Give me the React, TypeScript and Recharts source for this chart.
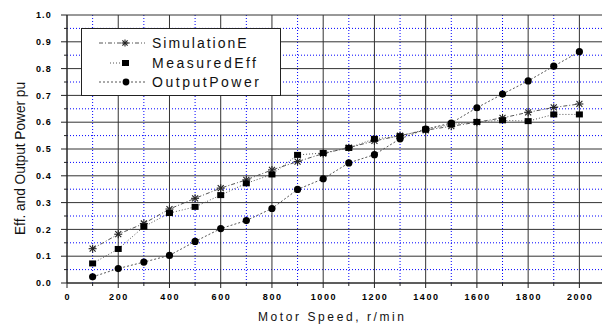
import React from 'react';
import { LineChart, Line, XAxis, YAxis, CartesianGrid, Legend } from 'recharts';

const speeds = [100, 200, 300, 400, 500, 600, 700, 800, 900, 1000, 1100, 1200, 1300, 1400, 1500, 1600, 1700, 1800, 1900, 2000];
const simulationEff = [0.128, 0.182, 0.222, 0.276, 0.316, 0.354, 0.385, 0.422, 0.453, 0.483, 0.505, 0.53, 0.55, 0.57, 0.585, 0.6, 0.616, 0.637, 0.655, 0.668];
const measuredEff = [0.073, 0.127, 0.21, 0.261, 0.284, 0.328, 0.372, 0.405, 0.478, 0.485, 0.504, 0.538, 0.548, 0.573, 0.592, 0.601, 0.607, 0.604, 0.629, 0.629];
const outputPower = [0.023, 0.054, 0.078, 0.103, 0.155, 0.203, 0.233, 0.278, 0.349, 0.389, 0.448, 0.479, 0.538, 0.574, 0.597, 0.654, 0.705, 0.754, 0.809, 0.863];

const seriesNames = ['SimulationE', 'MeasuredEff', 'OutputPower'];

const xTicks = [0, 100, 200, 300, 400, 500, 600, 700, 800, 900, 1000, 1100, 1200, 1300, 1400, 1500, 1600, 1700, 1800, 1900, 2000];
const xMajor = [0, 200, 400, 600, 800, 1000, 1200, 1400, 1600, 1800, 2000];
const xMinor = [100, 300, 500, 700, 900, 1100, 1300, 1500, 1700, 1900, 2100];
const yTicks = [0, 0.05, 0.1, 0.15, 0.2, 0.25, 0.3, 0.35, 0.4, 0.45, 0.5, 0.55, 0.6, 0.65, 0.7, 0.75, 0.8, 0.85, 0.9, 0.95, 1.0];
const yMajor = [0, 0.1, 0.2, 0.3, 0.4, 0.5, 0.6, 0.7, 0.8, 0.9, 1.0];
const yMinor = [0.05, 0.15, 0.25, 0.35, 0.45, 0.55, 0.65, 0.75, 0.85, 0.95];

const data = speeds.map((s, i) => ({
  speed: s,
  sim: simulationEff[i],
  meas: measuredEff[i],
  out: outputPower[i],
}));

const FONT = '"Liberation Sans", Arial, sans-serif';
const INK = '#111';
const LINE = '#555';
const DASH_SIM = '4 2 1 2';
const DASH_MEAS = '1 2';
const DASH_OUT = '2 2';

const isIn = (arr: number[], v: number) => arr.some((a) => Math.abs(a - v) < 1e-6);

const XTick = (props: any) => {
  const { x, y, payload } = props;
  const v = payload.value;
  const major = isIn(xMajor, v);
  return (
    <g>
      <line x1={x} x2={x} y1={y} y2={y + (major ? 5 : 3)} stroke="#222" />
      {major && (
        <text x={x + 0.8} y={y + 16.5} textAnchor="middle" fontFamily={FONT} fontSize={9} fontWeight="bold" letterSpacing={1.6} fill="#000">
          {v}
        </text>
      )}
    </g>
  );
};

const YTick = (props: any) => {
  const { x, y, payload } = props;
  const v = payload.value;
  const major = isIn(yMajor, v);
  return (
    <g>
      <line x1={x - (major ? 6 : 3)} x2={x} y1={y} y2={y} stroke="#222" />
      {major && (
        <text x={x - 15} y={y + 3.2} textAnchor="end" fontFamily={FONT} fontSize={9} fontWeight="bold" letterSpacing={1.2} fill="#000">
          {v.toFixed(1)}
        </text>
      )}
    </g>
  );
};

const XTitle = (props: any) => {
  const vb = props.viewBox || { x: 67, y: 283, width: 538, height: 41 };
  const cx = vb.x + vb.width / 2 - 5;
  const by = vb.y + vb.height - 3;
  return (
    <text x={cx} y={by} textAnchor="middle" fontFamily={FONT} fontSize={12} fill={INK} textLength={146} lengthAdjust="spacing">
      Motor Speed, r/min
    </text>
  );
};

const YTitle = (props: any) => {
  const vb = props.viewBox || { x: 0, y: 15, width: 67, height: 268 };
  const bx = vb.x + 25;
  const cy = vb.y + vb.height / 2 + 9.5;
  return (
    <text x={bx} y={cy} transform={`rotate(-90 ${bx} ${cy})`} textAnchor="middle" fontFamily={FONT} fontSize={15.5} fill={INK} textLength={153} lengthAdjust="spacingAndGlyphs">
      Eff. and Output Power pu
    </text>
  );
};

const Asterisk = ({ cx, cy, s = 4 }: { cx: number; cy: number; s?: number }) => (
  <g stroke="#222" strokeWidth={1.1}>
    <line x1={cx - s} x2={cx + s} y1={cy} y2={cy} />
    <line x1={cx} x2={cx} y1={cy - s} y2={cy + s} />
    <line x1={cx - s * 0.75} x2={cx + s * 0.75} y1={cy - s * 0.75} y2={cy + s * 0.75} />
    <line x1={cx - s * 0.75} x2={cx + s * 0.75} y1={cy + s * 0.75} y2={cy - s * 0.75} />
  </g>
);

const Square = ({ cx, cy }: { cx: number; cy: number }) => (
  <rect x={cx - 3.5} y={cy - 3} width={7} height={6} fill="#000" />
);

const Dot = ({ cx, cy }: { cx: number; cy: number }) => <circle cx={cx} cy={cy} r={3.6} fill="#000" />;

const LegendBox = () => {
  const rows = [
    { name: seriesNames[0], dash: DASH_SIM, x1: 18, x2: 64, marker: 'ast', len: 94.5 },
    { name: seriesNames[1], dash: DASH_MEAS, x1: 29, x2: 41, marker: 'sq', len: 104 },
    { name: seriesNames[2], dash: DASH_OUT, x1: 18, x2: 64, marker: 'dot', len: 107 },
  ];
  const ys = [15, 35, 54];
  return (
    <svg width={200} height={69} style={{ display: 'block' }}>
      <rect x={0.5} y={0.5} width={199} height={67} fill="#fff" stroke="#222" />
      {rows.map((r, i) => (
        <g key={r.name}>
          <line x1={r.x1} x2={r.x2} y1={ys[i]} y2={ys[i]} stroke={LINE} strokeDasharray={r.dash} />
          {r.marker === 'ast' && <Asterisk cx={44} cy={ys[i]} s={3.5} />}
          {r.marker === 'sq' && <rect x={41} y={ys[i] - 3} width={7} height={6} fill="#000" />}
          {r.marker === 'dot' && <circle cx={45} cy={ys[i]} r={3.4} fill="#000" />}
          <text x={71} y={ys[i] + 5} fontFamily={FONT} fontSize={14} fill={INK} textLength={r.len} lengthAdjust="spacing">
            {r.name}
          </text>
        </g>
      ))}
    </svg>
  );
};

export default function App() {
  return (
    <div style={{ position: 'absolute', left: 0, top: 0, width: 602, height: 324, overflow: 'hidden', background: '#fff' }}>
      <LineChart width={610} height={324} data={data} margin={{ top: 15, right: 5, bottom: 0, left: 0 }}>
        <CartesianGrid stroke="#0000ff" strokeDasharray="1 2" horizontalValues={yMinor} verticalValues={xMinor} />
        <CartesianGrid stroke="#333" horizontalValues={yMajor} verticalValues={xMajor} />
        <XAxis
          type="number"
          dataKey="speed"
          domain={[0, 2100]}
          ticks={xTicks}
          interval={0}
          tickSize={0}
          tickMargin={0}
          tickLine={false}
          tick={(p: any) => <XTick {...p} />}
          axisLine={{ stroke: '#222' }}
          height={41}
          label={(p: any) => <XTitle {...p} />}
        />
        <YAxis
          type="number"
          domain={[0, 1]}
          ticks={yTicks}
          interval={0}
          tickSize={0}
          tickMargin={0}
          tickLine={false}
          tick={(p: any) => <YTick {...p} />}
          axisLine={{ stroke: '#222' }}
          width={67}
          label={(p: any) => <YTitle {...p} />}
        />
        <Legend
          layout="vertical"
          align="center"
          verticalAlign="middle"
          wrapperStyle={{ left: 81, top: 28, width: 200, height: 69 }}
          content={() => <LegendBox />}
        />
        <Line
          type="linear"
          dataKey="sim"
          name={seriesNames[0]}
          stroke={LINE}
          strokeDasharray={DASH_SIM}
          isAnimationActive={false}
          dot={(p: any) => <Asterisk key={`a-${p.index}`} cx={p.cx} cy={p.cy} />}
          activeDot={false}
        />
        <Line
          type="linear"
          dataKey="meas"
          name={seriesNames[1]}
          stroke={LINE}
          strokeDasharray={DASH_MEAS}
          isAnimationActive={false}
          dot={(p: any) => <Square key={`s-${p.index}`} cx={p.cx} cy={p.cy} />}
          activeDot={false}
        />
        <Line
          type="linear"
          dataKey="out"
          name={seriesNames[2]}
          stroke={LINE}
          strokeDasharray={DASH_OUT}
          isAnimationActive={false}
          dot={(p: any) => <Dot key={`o-${p.index}`} cx={p.cx} cy={p.cy} />}
          activeDot={false}
        />
      </LineChart>
    </div>
  );
}
